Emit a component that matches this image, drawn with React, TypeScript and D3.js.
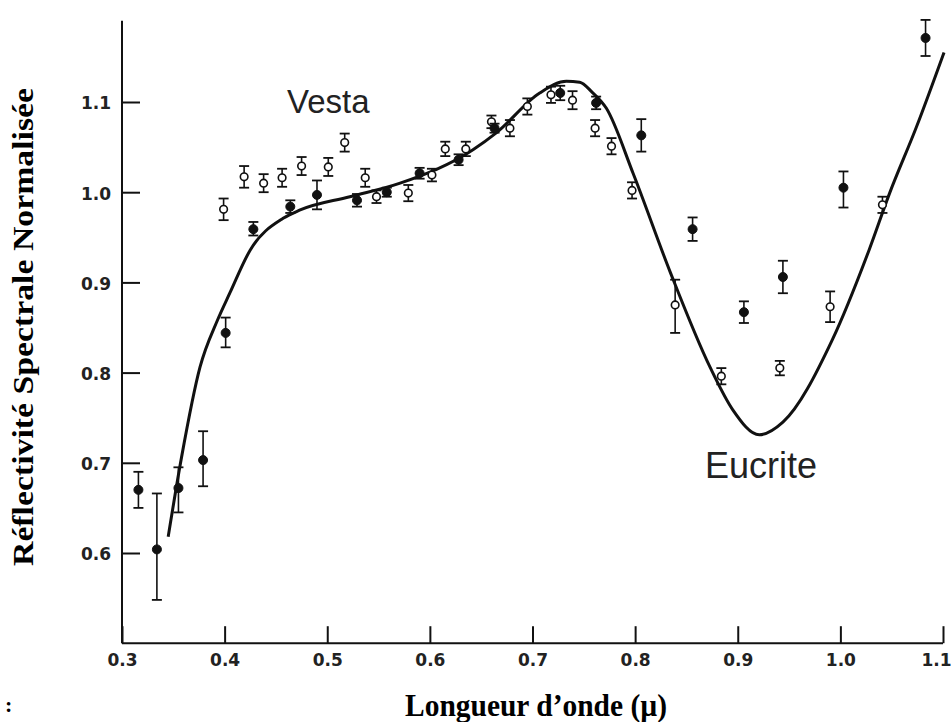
import { useEffect, useRef } from "react";
import * as d3 from "d3";

// [wavelength, reflectance, errLow, errHigh]
const eucriteObs: [number, number, number, number][] = [
  [0.316, 0.670, 0.650, 0.690],
  [0.334, 0.604, 0.548, 0.666],
  [0.355, 0.672, 0.645, 0.695],
  [0.379, 0.703, 0.674, 0.735],
  [0.401, 0.844, 0.828, 0.861],
  [0.428, 0.959, 0.952, 0.967],
  [0.464, 0.984, 0.977, 0.991],
  [0.490, 0.997, 0.981, 1.013],
  [0.529, 0.991, 0.984, 0.998],
  [0.558, 1.000, 0.995, 1.005],
  [0.590, 1.021, 1.015, 1.027],
  [0.628, 1.036, 1.030, 1.042],
  [0.663, 1.071, 1.066, 1.076],
  [0.727, 1.110, 1.102, 1.118],
  [0.762, 1.099, 1.092, 1.106],
  [0.806, 1.063, 1.045, 1.081],
  [0.856, 0.959, 0.946, 0.972],
  [0.906, 0.867, 0.855, 0.879],
  [0.944, 0.906, 0.888, 0.924],
  [1.003, 1.005, 0.983, 1.023],
  [1.083, 1.171, 1.151, 1.191],
];

const vestaObs: [number, number, number, number][] = [
  [0.399, 0.981, 0.969, 0.993],
  [0.419, 1.017, 1.005, 1.029],
  [0.438, 1.010, 1.000, 1.020],
  [0.456, 1.016, 1.006, 1.026],
  [0.475, 1.029, 1.019, 1.039],
  [0.501, 1.028, 1.018, 1.038],
  [0.517, 1.055, 1.045, 1.065],
  [0.537, 1.016, 1.006, 1.026],
  [0.548, 0.995, 0.988, 1.002],
  [0.579, 0.999, 0.990, 1.008],
  [0.602, 1.019, 1.012, 1.026],
  [0.615, 1.048, 1.040, 1.056],
  [0.635, 1.048, 1.040, 1.056],
  [0.660, 1.078, 1.071, 1.085],
  [0.678, 1.071, 1.062, 1.080],
  [0.695, 1.095, 1.086, 1.104],
  [0.718, 1.108, 1.099, 1.117],
  [0.739, 1.102, 1.092, 1.112],
  [0.761, 1.071, 1.062, 1.080],
  [0.777, 1.051, 1.042, 1.060],
  [0.797, 1.002, 0.993, 1.011],
  [0.839, 0.875, 0.844, 0.903],
  [0.884, 0.796, 0.787, 0.805],
  [0.941, 0.805, 0.797, 0.813],
  [0.990, 0.873, 0.856, 0.890],
  [1.041, 0.986, 0.977, 0.995],
];

const eucriteCurve: [number, number][] = [
  [0.345, 0.618], [0.358, 0.706], [0.376, 0.806], [0.393, 0.858], [0.405, 0.888],
  [0.425, 0.936], [0.457, 0.971], [0.473, 0.980], [0.522, 0.995], [0.571, 1.010],
  [0.642, 1.047], [0.665, 1.066], [0.707, 1.110], [0.733, 1.123], [0.746, 1.122],
  [0.758, 1.111], [0.772, 1.093], [0.798, 1.021], [0.834, 0.912], [0.873, 0.806],
  [0.895, 0.759], [0.921, 0.731], [0.944, 0.745], [0.992, 0.836], [1.028, 0.936],
  [1.048, 0.999], [1.074, 1.072], [1.101, 1.155],
];

const xTicks = [0.3, 0.4, 0.5, 0.6, 0.7, 0.8, 0.9, 1.0, 1.1];
const yTicks = [0.6, 0.7, 0.8, 0.9, 1.0, 1.1];
const xExtent = [0.3, 1.1];
const yExtent = [0.5, 1.19];

export default function App() {
  const ref = useRef<SVGSVGElement>(null);

  useEffect(() => {
    const svg = d3.select(ref.current);
    svg.selectAll("*").remove();

    const x = d3.scaleLinear().domain([0.3, 1.1]).range([122, 943]);
    const y = d3.scaleLinear().domain([0.6, 1.1]).range([553, 102]);
    const g = svg.append("g");

    // axes
    g.append("line")
      .attr("x1", x(xExtent[0])).attr("x2", x(xExtent[0]))
      .attr("y1", y(yExtent[0])).attr("y2", y(yExtent[1]))
      .attr("stroke", "#111").attr("stroke-width", 2);
    g.append("line")
      .attr("x1", x(xExtent[0])).attr("x2", x(xExtent[1]))
      .attr("y1", y(yExtent[0])).attr("y2", y(yExtent[0]))
      .attr("stroke", "#111").attr("stroke-width", 2);

    const tickFont = "'DejaVu Sans', sans-serif";
    g.append("g").attr("transform", `translate(${x(0.3)},0)`)
      .call(d3.axisLeft(y).tickValues(yTicks).tickSize(-18).tickPadding(11).tickFormat(d3.format(".1f")))
      .call(ax => ax.select(".domain").remove())
      .call(ax => ax.selectAll("line").attr("stroke", "#111").attr("stroke-width", 2))
      .call(ax => ax.selectAll("text").attr("fill", "#222").attr("font-size", "17px")
        .attr("font-weight", "bold").attr("font-family", tickFont).attr("dy", "0.4em"));

    g.append("g").attr("transform", `translate(0,${y(yExtent[0])})`)
      .call(d3.axisBottom(x).tickValues(xTicks).tickSize(-17).tickPadding(11).tickFormat(d3.format(".1f")))
      .call(ax => ax.select(".domain").remove())
      .call(ax => ax.selectAll("line").attr("stroke", "#111").attr("stroke-width", 2))
      .call(ax => ax.selectAll("text").attr("fill", "#222").attr("font-size", "17px")
        .attr("font-weight", "bold").attr("font-family", tickFont)
        .attr("dx", (d: any) => (d === 1.1 ? -7 : 0)));

    // model curve
    g.append("path").datum(eucriteCurve)
      .attr("fill", "none").attr("stroke", "#111").attr("stroke-width", 3)
      .attr("d", d3.line<[number, number]>().x(d => x(d[0])).y(d => y(d[1])).curve(d3.curveMonotoneX));

    // observations with error bars
    const drawObs = (data: [number, number, number, number][], filled: boolean) => {
      const pts = g.append("g").selectAll("g").data(data).join("g");
      pts.append("line")
        .attr("x1", d => x(d[0])).attr("x2", d => x(d[0]))
        .attr("y1", d => y(d[2])).attr("y2", d => y(d[3]))
        .attr("stroke", "#111").attr("stroke-width", 1.6);
      [2, 3].forEach(i => {
        pts.append("line")
          .attr("x1", d => x(d[0]) - 5).attr("x2", d => x(d[0]) + 5)
          .attr("y1", d => y(d[i])).attr("y2", d => y(d[i]))
          .attr("stroke", "#111").attr("stroke-width", 1.8);
      });
      pts.append("circle")
        .attr("cx", d => x(d[0])).attr("cy", d => y(d[1]))
        .attr("r", filled ? 4.5 : 3.8)
        .attr("fill", filled ? "#111" : "#fff")
        .attr("stroke", "#111").attr("stroke-width", filled ? 1 : 1.6);
    };
    drawObs(vestaObs, false);
    drawObs(eucriteObs, true);

    // labels
    g.append("text").attr("x", 287).attr("y", 113).text("Vesta")
      .attr("font-family", "'Liberation Sans', Arial, sans-serif").attr("font-size", "33px").attr("fill", "#222");
    g.append("text").attr("x", 705).attr("y", 478).text("Eucrite")
      .attr("font-family", "'Liberation Sans', Arial, sans-serif").attr("font-size", "36px").attr("fill", "#222");

    // axis titles
    g.append("text").attr("x", 536).attr("y", 716).attr("text-anchor", "middle")
      .attr("font-family", "'Liberation Serif', 'Times New Roman', serif").attr("font-weight", "bold")
      .attr("font-size", "32px").attr("textLength", 262).attr("lengthAdjust", "spacingAndGlyphs")
      .attr("fill", "#000").text("Longueur d’onde (µ)");
    g.append("text").attr("transform", "translate(33,327) rotate(-90)").attr("text-anchor", "middle")
      .attr("font-family", "'Liberation Serif', 'Times New Roman', serif").attr("font-weight", "bold")
      .attr("font-size", "30px").attr("textLength", 478).attr("lengthAdjust", "spacingAndGlyphs")
      .attr("fill", "#000").text("Réflectivité Spectrale Normalisée");
    g.append("text").attr("x", 5).attr("y", 712)
      .attr("font-family", "'Liberation Serif', serif").attr("font-weight", "bold")
      .attr("font-size", "22px").attr("fill", "#000").text(":");
  }, []);

  return (
    <svg ref={ref} width={951} height={722}
      style={{ position: "absolute", left: 0, top: 0, background: "#fff" }} />
  );
}
